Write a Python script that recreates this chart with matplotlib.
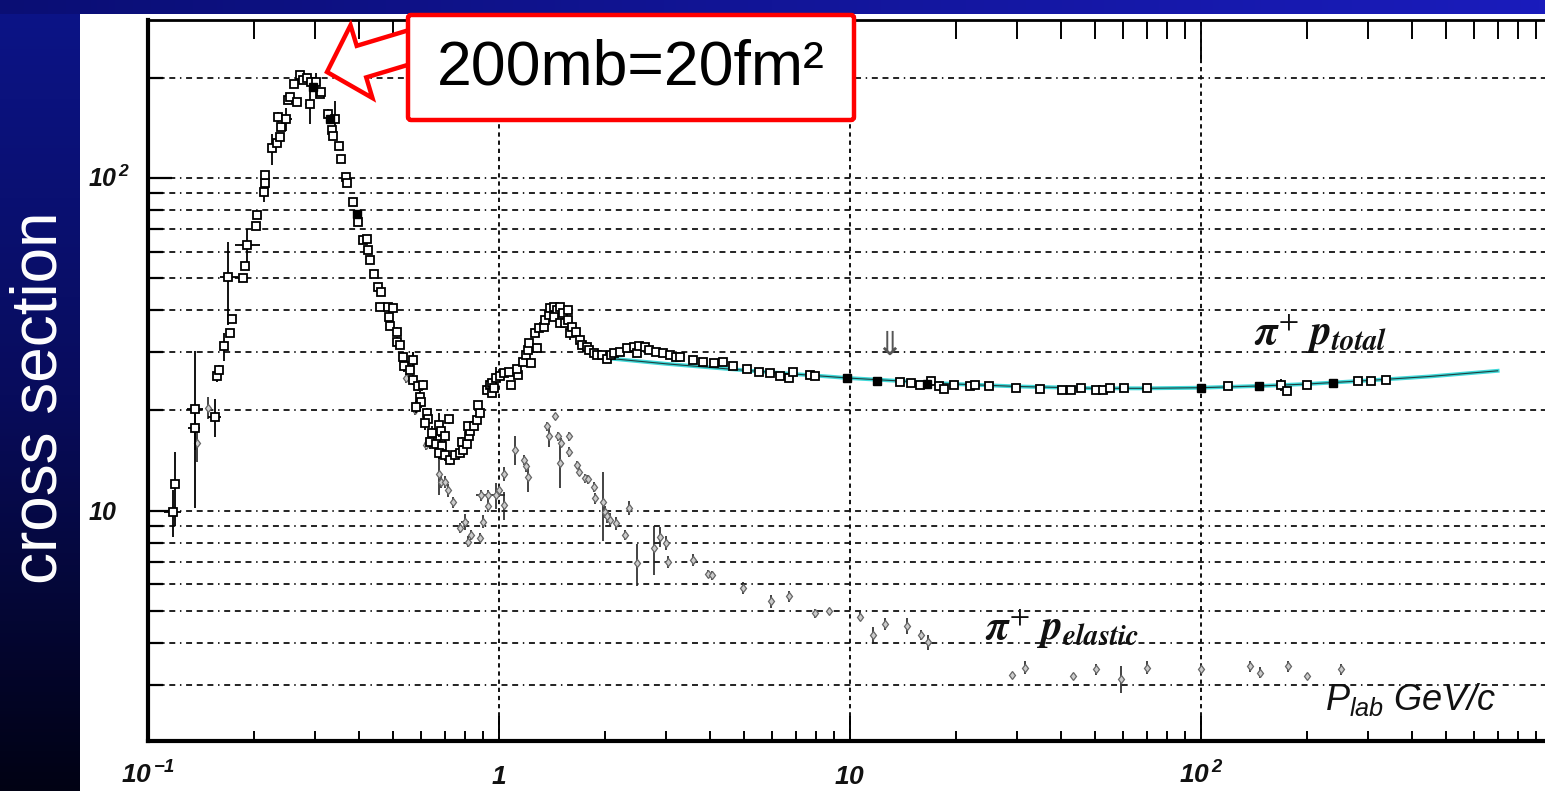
import numpy as np
import matplotlib
matplotlib.use("Agg")
import matplotlib.pyplot as plt
from matplotlib import transforms as mtrans
from matplotlib.patches import FancyArrow, FancyBboxPatch
from matplotlib.colors import LinearSegmentedColormap
from matplotlib.ticker import LogLocator, NullFormatter

# pi+ p total cross section (mb) vs P_lab (GeV/c)
tot_x = [0.118, 0.119, 0.136, 0.136, 0.155, 0.157, 0.159, 0.165, 0.169, 0.171,
         0.174, 0.187, 0.189, 0.192, 0.203, 0.204, 0.214, 0.215, 0.216, 0.225,
         0.233, 0.238, 0.240, 0.235, 0.248, 0.251, 0.254, 0.265, 0.260, 0.271,
         0.277, 0.283, 0.289, 0.292, 0.302, 0.309, 0.312, 0.326, 0.341, 0.334,
         0.336, 0.351, 0.354, 0.366, 0.369, 0.383, 0.397, 0.410, 0.420, 0.424,
         0.429, 0.441, 0.453, 0.462, 0.458, 0.483, 0.499, 0.486, 0.488, 0.513,
         0.511, 0.522, 0.532, 0.537, 0.570, 0.556, 0.570, 0.589, 0.608, 0.595,
         0.600, 0.580, 0.622, 0.628, 0.615, 0.643, 0.637, 0.662, 0.676, 0.722,
         0.683, 0.700, 0.690, 0.676, 0.700, 0.725, 0.750, 0.774, 0.790, 0.785,
         0.810, 0.822, 0.825, 0.818, 0.846, 0.864, 0.880, 0.873, 0.923, 0.940,
         0.956, 0.956, 0.978, 0.970, 1.006, 1.034, 1.068, 1.080, 1.135, 1.125,
         1.173, 1.190, 1.210, 1.230, 1.220, 1.280, 1.270, 1.300, 1.340, 1.350,
         1.390, 1.400, 1.430, 1.460, 1.490, 1.430, 1.490, 1.520, 1.540, 1.570,
         1.570, 1.590, 1.610, 1.660, 1.700, 1.720, 1.780, 1.810, 1.860, 1.900,
         1.960, 2.030, 2.080, 2.130, 2.210, 2.310, 2.420, 2.470, 2.500, 2.610,
         2.680, 2.800, 2.940, 3.070, 3.200, 3.280, 3.580, 3.820, 4.100, 4.350,
         4.650, 5.080, 5.500, 5.900, 6.300, 6.700, 6.900, 7.700, 7.950, 13.9,
         14.9, 15.8, 17.0, 17.9, 18.5, 19.8, 22.0, 22.7, 24.9, 29.7,
         34.8, 40.1, 42.6, 45.4, 50.1, 52.5, 55.1, 60.3, 70.0, 119.6,
         169.0, 176.0, 200.0, 281.0, 306.0, 337.0]
tot_y = [9.9, 12.0, 20.2, 17.7, 19.1, 25.4, 26.4, 31.2, 50.2, 34.2,
         37.6, 49.9, 54.5, 62.8, 71.6, 77.3, 90.8, 96.2, 102.0, 122.5,
         126.8, 132.8, 142.3, 152.5, 150.5, 171.0, 175.0, 169.0, 192.0, 203.0,
         197.0, 200.0, 167.0, 194.0, 194.0, 179.0, 181.0, 156.0, 150.7, 139.0,
         134.0, 125.0, 114.0, 100.3, 96.7, 84.7, 73.5, 65.0, 65.6, 60.7,
         56.6, 51.3, 46.9, 45.4, 41.0, 41.0, 40.5, 38.2, 35.9, 34.5,
         32.2, 31.5, 29.0, 27.1, 28.4, 26.5, 24.7, 23.6, 23.8, 22.0,
         21.2, 20.5, 19.6, 18.9, 18.3, 17.1, 16.1, 15.9, 18.1, 18.8,
         17.4, 16.7, 15.6, 14.9, 14.7, 14.2, 14.7, 14.9, 15.2, 16.1,
         15.9, 16.7, 17.3, 18.0, 17.9, 18.7, 19.6, 20.8, 23.0, 23.9,
         22.5, 24.1, 25.0, 23.3, 25.3, 25.9, 26.1, 23.9, 25.6, 26.6,
         28.0, 29.3, 30.4, 27.7, 31.8, 30.7, 34.1, 35.3, 35.7, 37.4,
         38.7, 40.5, 41.0, 40.0, 41.0, 38.2, 36.5, 39.2, 36.5, 40.0,
         37.3, 34.1, 35.7, 34.5, 32.6, 31.5, 31.1, 30.4, 29.7, 29.3,
         29.3, 28.6, 29.3, 29.7, 30.0, 30.7, 31.1, 29.7, 31.2, 31.1,
         30.4, 30.0, 29.7, 29.3, 29.0, 29.0, 28.4, 28.0, 27.7, 28.0,
         27.1, 26.6, 26.1, 25.9, 25.4, 25.1, 26.1, 25.6, 25.3, 24.4,
         24.1, 23.9, 24.5, 23.7, 23.2, 23.9, 23.7, 23.9, 23.6, 23.3,
         23.2, 23.0, 23.0, 23.3, 23.0, 23.0, 23.3, 23.3, 23.3, 23.6,
         23.9, 22.9, 23.9, 24.5, 24.5, 24.7]
tot_err = [1.6, 3.0, 10.0, 2.5, 2.5, 1.0, 1.0, 3.0, 14.0, 1.0,
           1.0, 1.0, 1.5, 7.5, 1.5, 1.5, 6.0, 2.0, 2.0, 13.0,
           2.0, 3.0, 3.0, 5.0, 12.0, 4.0, 4.0, 4.0, 4.0, 5.0,
           5.0, 5.0, 22.0, 4.0, 12.0, 4.0, 4.0, 5.0, 19.0, 4.0,
           4.0, 3.0, 3.0, 2.0, 2.0, 2.0, 1.5, 1.5, 1.5, 1.5,
           1.5, 1.0, 1.0, 1.0, 1.0, 1.0, 1.0, 1.0, 1.0, 1.0,
           1.0, 1.0, 1.0, 1.0, 1.6, 0.8, 0.8, 0.8, 0.8, 0.8,
           0.8, 0.8, 0.8, 0.8, 0.8, 0.8, 0.8, 0.8, 1.5, 0.6,
           0.6, 0.6, 0.6, 0.6, 0.6, 0.5, 0.5, 0.5, 0.5, 0.5,
           0.5, 0.5, 0.5, 0.5, 0.5, 0.5, 0.5, 0.5, 0.6, 0.6,
           0.6, 0.6, 2.0, 0.6, 0.6, 0.6, 0.6, 0.6, 0.6, 0.6,
           0.6, 0.6, 0.6, 0.6, 0.6, 1.0, 0.6, 0.6, 0.6, 0.6,
           0.6, 0.6, 0.6, 0.6, 0.6, 0.6, 0.6, 0.6, 0.6, 0.6,
           0.6, 1.5, 0.6, 0.6, 0.5, 0.5, 0.5, 0.5, 0.5, 0.5,
           0.5, 0.5, 0.5, 0.5, 0.5, 0.5, 0.5, 0.5, 0.5, 0.5,
           0.5, 0.5, 0.5, 0.5, 0.4, 0.4, 0.4, 0.4, 0.4, 0.4,
           0.4, 0.4, 0.4, 0.3, 0.3, 0.3, 0.3, 0.3, 0.3, 0.3,
           0.3, 0.3, 0.3, 0.3, 0.5, 0.3, 0.3, 0.3, 0.3, 0.3,
           0.3, 0.3, 0.3, 0.3, 0.3, 0.3, 0.3, 0.3, 0.3, 0.3,
           1.0, 0.3, 0.3, 0.3, 0.3, 0.3]

# filled points of the total cross section
fill_x = [0.296, 0.33, 0.395, 9.8, 11.9, 16.6, 100.0, 146.0, 237.0]
fill_y = [188.0, 150.0, 78.0, 25.0, 24.5, 24.0, 23.4, 23.7, 24.2]

# horizontal error bars on some low energy points
hbar_y = [9.9, 20.2, 17.7, 19.1, 50.2, 62.8, 150.5, 167.0]
hbar_lo = [0.111, 0.129, 0.130, 0.148, 0.160, 0.177, 0.240, 0.281]
hbar_hi = [0.124, 0.143, 0.141, 0.161, 0.180, 0.208, 0.258, 0.298]

# pi+ p elastic cross section (mb)
el_x = [0.138, 0.148, 0.545, 0.570, 0.576, 0.622, 0.620, 0.676, 0.683, 0.700,
        0.714, 0.740, 0.774, 0.800, 0.818, 0.834, 0.880, 0.900, 0.932, 0.890,
        0.930, 0.980, 1.000, 1.030, 1.035, 1.110, 1.180, 1.190, 1.210, 1.370,
        1.390, 1.440, 1.470, 1.500, 1.490, 1.580, 1.580, 1.670, 1.690, 1.760,
        1.790, 1.860, 1.880, 1.980, 2.000, 2.030, 2.070, 2.160, 2.290, 2.340,
        2.470, 2.760, 2.870, 3.000, 3.030, 3.580, 3.950, 4.040, 4.950, 5.960,
        6.720, 7.950, 8.700, 10.7, 11.6, 12.6, 14.5, 15.9, 16.7, 28.9,
        31.6, 43.1, 50.1, 59.2, 70.0, 100.0, 138.0, 147.0, 177.0, 200.0,
        250.0]
el_y = [16.0, 20.4, 25.0, 28.1, 20.0, 16.0, 15.7, 12.9, 12.2, 12.2,
        11.5, 10.6, 8.85, 9.27, 8.07, 8.46, 8.26, 9.27, 10.3, 11.1,
        11.1, 11.1, 11.5, 10.4, 12.9, 15.2, 14.2, 13.6, 12.6, 17.9,
        16.7, 19.2, 16.7, 16.0, 13.9, 16.7, 15.0, 13.7, 13.1, 12.5,
        12.4, 11.8, 10.9, 10.6, 9.9, 9.6, 9.4, 9.17, 8.45, 10.2,
        6.95, 7.7, 8.35, 8.0, 7.0, 7.1, 6.45, 6.4, 5.85, 5.33,
        5.52, 4.92, 5.0, 4.8, 4.23, 4.57, 4.5, 4.23, 4.02, 3.21,
        3.37, 3.19, 3.33, 3.12, 3.37, 3.33, 3.4, 3.26, 3.4, 3.19,
        3.33]
el_err = [2.0, 1.5, 0.8, 1.8, 0.6, 0.6, 0.5, 1.8, 0.5, 0.5,
          0.5, 0.4, 0.3, 0.5, 0.3, 0.3, 0.3, 0.4, 0.4, 0.4,
          0.4, 1.0, 0.5, 1.0, 0.6, 1.5, 0.5, 0.5, 1.2, 0.5,
          1.2, 0.5, 0.5, 0.5, 2.2, 0.5, 0.5, 0.4, 0.4, 0.4,
          0.4, 0.4, 0.4, 2.5, 0.4, 0.4, 0.4, 0.4, 0.3, 0.5,
          1.0, 1.3, 0.6, 0.4, 0.3, 0.3, 0.2, 0.2, 0.25, 0.25,
          0.2, 0.15, 0.1, 0.15, 0.25, 0.2, 0.25, 0.15, 0.2, 0.05,
          0.15, 0.05, 0.12, 0.3, 0.15, 0.12, 0.12, 0.12, 0.12, 0.05,
          0.12]
el_hbar_y = [11.1, 11.1, 9.27]
el_hbar_lo = [0.86, 0.94, 0.78]
el_hbar_hi = [0.92, 1.04, 0.82]

# fitted curve through the high energy total cross section
fit_x = [2.1, 3.0, 5.0, 7.0, 10.0, 15.0, 20.0, 30.0, 50.0, 70.0,
         100.0, 150.0, 200.0, 300.0, 450.0, 700.0]
fit_y = [28.6, 27.6, 26.4, 25.7, 25.0, 24.4, 24.0, 23.6, 23.3, 23.3,
         23.4, 23.7, 24.0, 24.6, 25.3, 26.3]

xtick_vals = [0.1, 1, 10, 100]
xtick_labels = [r"$\mathbf{10}^{\,\mathbf{-1}}$", r"$\mathbf{1}$", r"$\mathbf{10}$",
                r"$\mathbf{10}^{\,\mathbf{2}}$"]
ytick_vals = [10, 100]
ytick_labels = [r"$\mathbf{10}$", r"$\mathbf{10}^{\,\mathbf{2}}$"]

plt.rcParams["mathtext.fontset"] = "custom"
plt.rcParams["mathtext.rm"] = "Liberation Sans:italic"
plt.rcParams["mathtext.it"] = "Liberation Sans:italic"
plt.rcParams["mathtext.bf"] = "Liberation Sans:bold:italic"
plt.rcParams["mathtext.sf"] = "Liberation Sans"

W, H = 1545, 791
fig = plt.figure(figsize=(W / 100, H / 100), dpi=100, facecolor="white")
# image pixel coordinates (origin top left)
px = mtrans.Affine2D().scale(1, -1).translate(0, H).scale(1 / W, 1 / H) + fig.transFigure

# slide background strips
strip = LinearSegmentedColormap.from_list("strip", ["#0c1488", "#080c5c", "#010214"])
axl = fig.add_axes([0, 0, 80 / W, 1])
axl.imshow(np.linspace(0, 1, 256)[:, None], aspect="auto", cmap=strip)
axl.axis("off")
topc = LinearSegmentedColormap.from_list("top", ["#0a0e74", "#1a1cbc"])
axt = fig.add_axes([0, 1 - 14 / H, 1, 14 / H])
axt.imshow(np.linspace(0, 1, 256)[None, :], aspect="auto", cmap=topc)
axt.axis("off")
fig.text(40, 398, "cross section", transform=px, rotation=90, color="white",
         fontsize=46, family="Liberation Sans", ha="center", va="center")

ax = fig.add_axes([148 / W, 1 - 741 / H, (1552 - 148) / W, (741 - 20) / H])
ax.set_xscale("log")
ax.set_yscale("log")
ax.set_xlim(0.1, 1000)
ax.set_ylim(2.03, 298)

gstyle = (0, (3.3, 2.6, 3.3, 2.6, 3.3, 2.6, 0.8, 2.6))
ax.yaxis.grid(True, which="both", color="#111111", lw=1.3, linestyle=gstyle)
ax.xaxis.grid(True, which="major", color="#111111", lw=1.4, linestyle=(0, (2.2, 2.0)))

ax.plot(fit_x, fit_y, color="#3fd9d9", lw=2.8, zorder=3)
ax.plot(fit_x, fit_y, color="#1f3f3f", lw=0.8, zorder=3.2)

ax.errorbar(el_x, el_y, yerr=el_err, fmt="d", ms=4.5, mfc="#cccccc", mec="#666666",
            mew=0.9, ecolor="#222222", elinewidth=1.2, capsize=0, zorder=4)
ax.hlines(el_hbar_y, el_hbar_lo, el_hbar_hi, color="#222222", lw=1.2, zorder=4)

ax.errorbar(tot_x, tot_y, yerr=tot_err, fmt="s", ms=6, mfc="white", mec="black",
            mew=1.3, ecolor="black", elinewidth=1.3, capsize=0, zorder=5)
ax.hlines(hbar_y, hbar_lo, hbar_hi, color="black", lw=1.3, zorder=5)
ax.plot(fill_x, fill_y, "s", ms=6, color="black", zorder=6)

# ticks
ax.set_xticks(xtick_vals)
ax.set_yticks(ytick_vals)
ax.xaxis.set_minor_locator(LogLocator(base=10, subs=np.arange(2, 10) * 1.0, numticks=30))
ax.yaxis.set_minor_locator(LogLocator(base=10, subs=np.arange(2, 10) * 1.0, numticks=30))
ax.xaxis.set_minor_formatter(NullFormatter())
ax.yaxis.set_minor_formatter(NullFormatter())
ax.tick_params(axis="x", which="major", direction="in", length=18, width=1.4,
               top=False, labelbottom=False)
ax.tick_params(axis="x", which="minor", direction="in", length=7, width=1.4, top=False)
ax.tick_params(axis="y", which="major", direction="in", length=17, width=1.6,
               right=False, labelleft=False)
ax.tick_params(axis="y", which="minor", direction="in", length=11, width=1.6, right=False)
for s in ["left", "bottom"]:
    ax.spines[s].set_linewidth(3)
ax.spines["top"].set_visible(False)
ax.spines["right"].set_visible(False)

sec = ax.secondary_xaxis("top")
sec.set_xticks(xtick_vals + [1000])
sec.xaxis.set_minor_locator(LogLocator(base=10, subs=np.arange(2, 10) * 1.0, numticks=30))
sec.xaxis.set_major_formatter(NullFormatter())
sec.xaxis.set_minor_formatter(NullFormatter())
sec.tick_params(which="major", direction="in", length=31, width=1.4)
sec.tick_params(which="minor", direction="in", length=14, width=1.4)
sec.spines["top"].set_linewidth(2)

xlab_tr = mtrans.offset_copy(ax.get_xaxis_transform(), fig=fig, y=-31, units="points")
for v, lab in zip(xtick_vals, xtick_labels):
    ax.text(v, 0, lab, transform=xlab_tr, ha="center", va="baseline",
            fontsize=19, color="#111111")
ylab_tr = mtrans.offset_copy(ax.get_yaxis_transform(), fig=fig, x=-43, y=-6.5, units="points")
for v, lab in zip(ytick_vals, ytick_labels):
    ax.text(0, v, lab, transform=ylab_tr, ha="left", va="baseline",
            fontsize=18, color="#111111")

ax.text(142, 31.4, r"$\mathbfit{\pi}^{+}\ \mathbfit{p}_{\mathbfit{total}}$",
        math_fontfamily="stix", fontsize=30, ha="left", va="baseline", color="#111111")
ax.text(24.2, 4.09, r"$\mathbfit{\pi}^{+}\ \mathbfit{p}_{\mathbfit{elastic}}$",
        math_fontfamily="stix", fontsize=30, ha="left", va="baseline", color="#111111")
ax.text(225, 2.52, r"$P_{lab}$ GeV/c", fontsize=26, family="Liberation Sans",
        style="italic", ha="left", va="baseline", color="#111111")
ax.text(12.9, 31.4, "\u21d3", fontsize=24, family="DejaVu Sans", ha="center",
        va="center", color="#555555")

# annotation arrow and box
arrow = FancyArrow(415, 45.5, -88, 26.5, width=33, head_width=76, head_length=36,
                   length_includes_head=True, transform=px, fc="white", ec="#ff0000",
                   lw=3.2, zorder=9)
fig.add_artist(arrow)
box = FancyBboxPatch((408, 15), 446, 105, boxstyle="round,pad=0,rounding_size=3",
                     transform=px, fc="white", ec="#ff0000", lw=3.2, zorder=10)
fig.add_artist(box)
fig.text(631, 68, "200mb=20fm\u00b2", transform=px, fontsize=45, family="Liberation Sans",
         ha="center", va="center", zorder=11)

fig.savefig("out.png", dpi=100, facecolor="white")
